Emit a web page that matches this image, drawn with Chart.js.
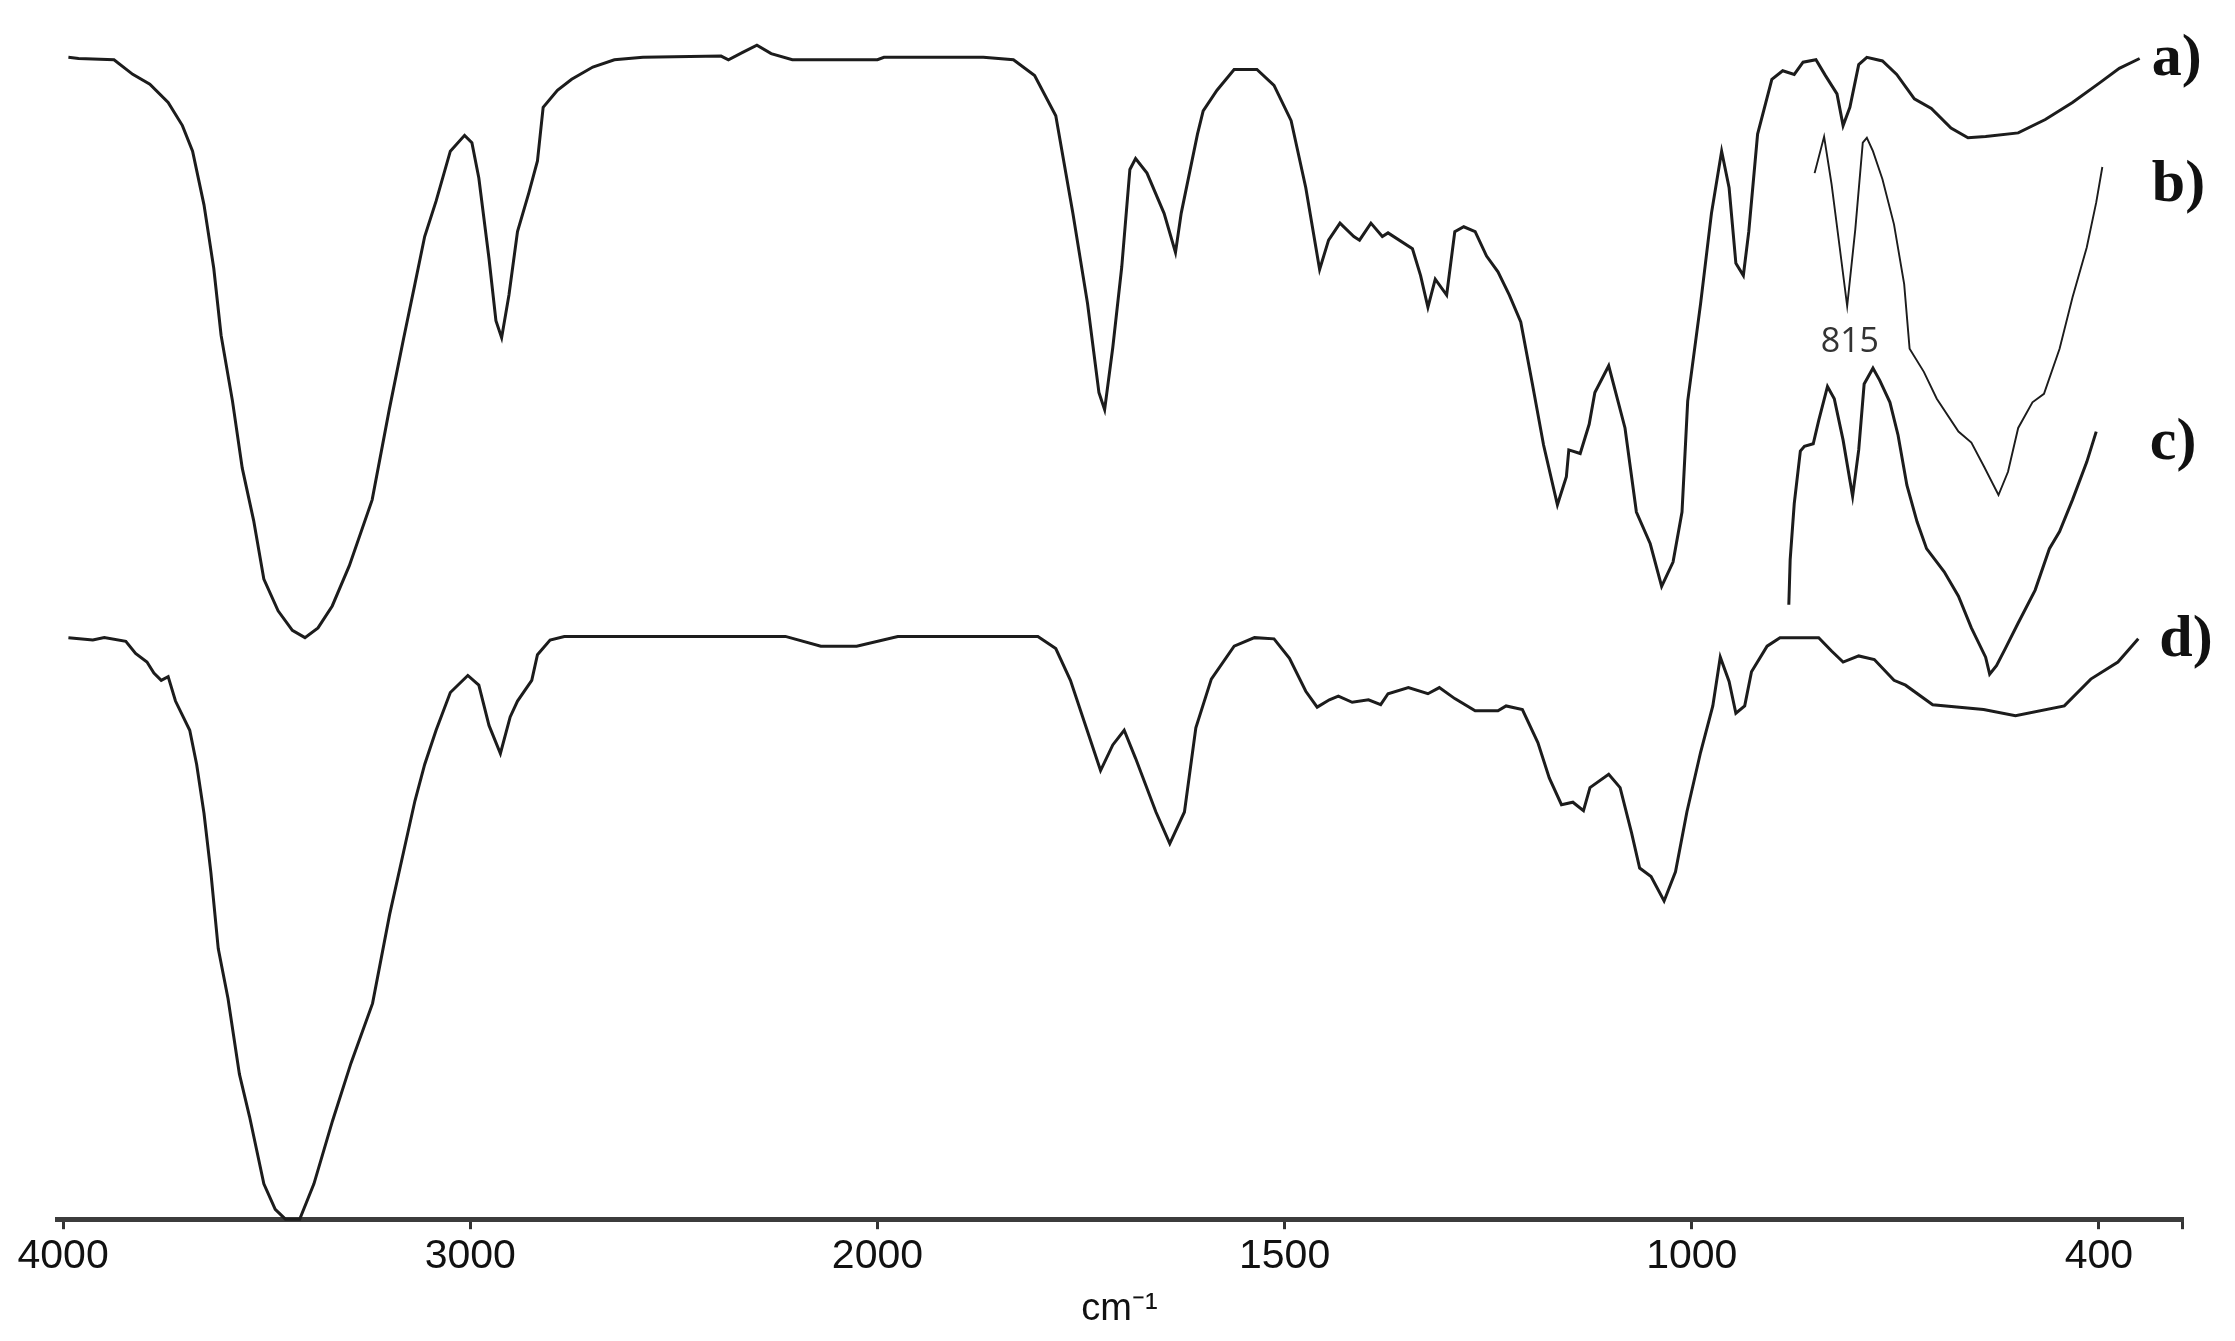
<!DOCTYPE html>
<html>
<head>
<meta charset="utf-8">
<script src="https://cdn.jsdelivr.net/npm/chart.js@4.4.1/dist/chart.umd.min.js"></script>
<style>
  html, body { margin: 0; padding: 0; background: #fff; }
  #wrap { width: 2235px; height: 1341px; position: relative; }
</style>
</head>
<body>
<div id="wrap"><canvas id="ftir"></canvas></div>
<script>
// x axis is broken: 4000-2000, 2000-1000 and 1000-400 each get their own stretch
const axisBreakWn = [4000, 2000, 1000, 400];
const axisBreakPos = [0, 2000, 4000, 5000];
const tickWn = [4000, 3000, 2000, 1500, 1000, 400];
const tickText = ['4000', '3000', '2000', '1500', '1000', '400'];

// spectrum a)
const aWn = [3987, 3962, 3875, 3829, 3787, 3742, 3707, 3682, 3654, 3630, 3612, 3584, 3560, 3532, 3507, 3472, 3437, 3406,
  3374, 3339, 3297, 3241, 3199, 3164, 3136, 3112, 3084, 3049, 3014, 2996, 2979, 2954, 2937, 2923, 2905, 2884, 2856,
  2835, 2821, 2786, 2751, 2699, 2646, 2576, 2384, 2366, 2331, 2296, 2261, 2209, 2000, 1992, 1870, 1833, 1807, 1781,
  1760, 1742, 1728, 1721, 1711, 1700, 1690, 1683, 1669, 1648, 1634, 1627, 1607, 1600, 1583, 1562, 1534, 1513, 1492,
  1474, 1457, 1446, 1432, 1415, 1408, 1394, 1380, 1373, 1343, 1333, 1324, 1315, 1301, 1291, 1280, 1266, 1252, 1238,
  1224, 1210, 1196, 1182, 1165, 1154, 1151, 1137, 1126, 1119, 1102, 1082, 1068, 1051, 1037, 1023, 1012, 1005, 987,
  971, 956, 945, 935, 924, 916, 903, 882, 866, 849, 836, 817, 803, 786, 777, 767, 754, 742, 719, 698, 672, 647, 618,
  593, 567, 519, 479, 439, 399, 370, 340];
const aT = [95.3, 95.2, 95.1, 93.9, 93.1, 91.6, 89.7, 87.6, 83.2, 78.0, 72.5, 67.1, 61.6, 57.3, 52.5, 49.9, 48.3, 47.7,
  48.5, 50.3, 53.6, 59.0, 66.4, 72.2, 76.7, 80.6, 83.5, 87.6, 88.9, 88.3, 85.4, 78.8, 73.7, 72.3, 75.8, 81.0, 84.2,
  86.8, 91.2, 92.6, 93.5, 94.5, 95.1, 95.3, 95.4, 95.1, 95.7, 96.3, 95.6, 95.1, 95.1, 95.3, 95.3, 95.1, 93.8, 90.5,
  82.5, 75.1, 67.8, 66.4, 71.5, 78.1, 86.1, 87.0, 85.8, 82.5, 79.3, 82.5, 89.0, 90.9, 92.6, 94.3, 94.3, 93.0, 90.1,
  84.6, 77.9, 80.3, 81.7, 80.6, 80.3, 81.7, 80.6, 80.9, 79.6, 77.4, 74.8, 77.1, 75.8, 81.0, 81.4, 81.0, 79.0, 77.7,
  75.8, 73.6, 68.6, 63.5, 58.6, 60.9, 63.1, 62.8, 65.2, 67.8, 70.0, 64.9, 58.0, 55.4, 51.9, 53.9, 58.0, 67.1, 75.1,
  82.5, 87.6, 84.6, 78.4, 77.4, 81.0, 89.0, 93.5, 94.2, 93.9, 94.9, 95.1, 93.8, 92.3, 89.7, 91.2, 94.7, 95.3, 95.0,
  93.9, 91.9, 91.1, 89.5, 88.7, 88.8, 89.1, 90.2, 91.6, 93.2, 94.4, 95.2];

// spectrum b) (only the low-wavenumber inset)
const bWn = [819, 805, 794, 782, 771, 759, 748, 742, 733, 719, 702, 687, 679, 658, 639, 607, 588, 569, 548, 534, 519,
  498, 481, 458, 439, 418, 404, 395];
const bT = [85.8, 88.8, 84.9, 79.7, 74.9, 81.2, 88.3, 88.7, 87.6, 85.3, 81.6, 76.7, 71.4, 69.5, 67.3, 64.6, 63.7,
  61.7, 59.4, 61.3, 64.9, 67.0, 67.7, 71.4, 75.6, 79.7, 83.4, 86.3];

// spectrum c) (only the low-wavenumber inset)
const cWn = [857, 855, 849, 840, 834, 821, 813, 800, 790, 777, 763, 754, 746, 733, 723, 708, 696, 683, 668, 654, 628,
  607, 588, 567, 561, 551, 538, 519, 494, 473, 458, 439, 418, 404];
const cT = [50.4, 54.1, 58.7, 63.0, 63.4, 63.6, 65.5, 68.3, 67.3, 63.9, 59.3, 63.1, 68.5, 69.8, 68.8, 67.0, 64.3,
  60.2, 57.2, 55.0, 53.1, 51.1, 48.5, 46.1, 44.7, 45.4, 46.8, 48.9, 51.6, 55.0, 56.4, 59.0, 62.1, 64.6];

// spectrum d)
const dWn = [3987, 3927, 3899, 3846, 3822, 3794, 3777, 3759, 3742, 3724, 3689, 3672, 3654, 3637, 3619, 3595, 3567,
  3542, 3507, 3479, 3454, 3419, 3384, 3338, 3293, 3240, 3198, 3164, 3136, 3112, 3084, 3049, 3006, 2979, 2954, 2926,
  2902, 2884, 2849, 2835, 2804, 2769, 2226, 2139, 2051, 1975, 1803, 1781, 1763, 1746, 1726, 1711, 1697, 1683, 1658,
  1641, 1623, 1609, 1590, 1562, 1537, 1513, 1494, 1474, 1460, 1445, 1434, 1417, 1397, 1382, 1373, 1348, 1324, 1310,
  1291, 1266, 1238, 1228, 1208, 1189, 1175, 1160, 1146, 1133, 1125, 1102, 1088, 1074, 1064, 1050, 1034, 1020, 1006,
  987, 969, 958, 945, 935, 922, 912, 889, 870, 813, 794, 777, 754, 731, 702, 685, 645, 570, 523, 451, 412, 372, 342];
const dT = [47.7, 47.5, 47.7, 47.4, 46.4, 45.7, 44.8, 44.2, 44.5, 42.5, 40.1, 37.3, 33.3, 28.4, 22.2, 18.1, 11.9,
  8.4, 2.9, 0.8, 0.0, 0.0, 2.9, 8.1, 12.8, 17.7, 25.0, 30.1, 34.3, 37.3, 40.1, 43.2, 44.6, 43.8, 40.5, 38.2, 41.2,
  42.5, 44.2, 46.3, 47.5, 47.8, 47.8, 47.0, 47.0, 47.8, 47.8, 46.8, 44.2, 40.8, 36.8, 38.9, 40.1, 37.8, 33.4, 30.8,
  33.4, 40.3, 44.3, 47.0, 47.7, 47.6, 46.0, 43.3, 42.0, 42.6, 42.9, 42.4, 42.6, 42.2, 43.1, 43.6, 43.1, 43.6, 42.7,
  41.7, 41.7, 42.1, 41.8, 39.1, 36.2, 34.0, 34.2, 33.5, 35.4, 36.5, 35.4, 31.7, 28.8, 28.1, 26.1, 28.5, 33.4, 38.3,
  42.1, 46.1, 44.1, 41.5, 42.1, 44.9, 47.0, 47.7, 47.7, 46.6, 45.7, 46.2, 45.9, 44.2, 43.8, 42.2, 41.8, 41.3, 42.1,
  44.3, 45.7, 47.6];

// curve tags and the peak note
const tagText = ['a)', 'b)', 'c)', 'd)'];
const tagWn = [322, 322, 325, 311];
const tagT = [95.1, 84.8, 63.6, 47.5];
const noteText = '815';
const noteWn = 767;
const noteT = 71.9;

// wavenumber -> position along the drawn axis
function toPos(wn) {
  let i = 0;
  while (i < axisBreakWn.length - 2 && wn < axisBreakWn[i + 1]) i++;
  const w0 = axisBreakWn[i], w1 = axisBreakWn[i + 1];
  const p0 = axisBreakPos[i], p1 = axisBreakPos[i + 1];
  return p0 + (w0 - wn) * (p1 - p0) / (w0 - w1);
}

function series(wn, t) {
  return wn.map((w, i) => ({ x: toPos(w), y: t[i] }));
}

const tickPos = tickWn.map(toPos);
const axisMin = -15;
const axisMax = 5204;

const tagPlugin = {
  id: 'tags',
  afterDatasetsDraw(chart) {
    const { ctx, scales: { x, y } } = chart;
    ctx.save();
    ctx.fillStyle = '#111';
    ctx.textAlign = 'left';
    ctx.textBaseline = 'middle';
    ctx.font = 'bold 60px "Liberation Serif", "Times New Roman", serif';
    tagText.forEach((t, i) => {
      ctx.fillText(t, x.getPixelForValue(toPos(tagWn[i])), y.getPixelForValue(tagT[i]));
    });
    ctx.font = '34px "Open Sans", sans-serif';
    ctx.fillStyle = '#333';
    ctx.textAlign = 'center';
    ctx.fillText(noteText, x.getPixelForValue(toPos(noteWn)), y.getPixelForValue(noteT));
    ctx.restore();
  }
};

const lineStyle = { borderColor: '#1c1c1c', pointRadius: 0, tension: 0, fill: false, clip: false };

new Chart(document.getElementById('ftir'), {
  type: 'line',
  data: {
    datasets: [
      { ...lineStyle, label: 'a)', data: series(aWn, aT), borderWidth: 3 },
      { ...lineStyle, label: 'b)', data: series(bWn, bT), borderWidth: 1.9 },
      { ...lineStyle, label: 'c)', data: series(cWn, cT), borderWidth: 3 },
      { ...lineStyle, label: 'd)', data: series(dWn, dT), borderWidth: 3 }
    ]
  },
  options: {
    responsive: true,
    maintainAspectRatio: false,
    animation: false,
    layout: { padding: { left: 57, right: 53, top: 0, bottom: 9 } },
    plugins: {
      legend: { display: false },
      tooltip: { enabled: false }
    },
    scales: {
      x: {
        type: 'linear',
        min: axisMin,
        max: axisMax,
        afterBuildTicks: (scale) => {
          scale.ticks = tickPos.map(v => ({ value: v })).concat([{ value: axisMax }]);
        },
        ticks: {
          autoSkip: false,
          maxRotation: 0,
          padding: 3,
          color: '#111',
          font: { family: '"Liberation Sans", Arial, sans-serif', size: 41 },
          callback: (value) => {
            const i = tickPos.findIndex(p => Math.abs(p - value) < 0.5);
            return i >= 0 ? tickText[i] : '';
          }
        },
        grid: {
          drawOnChartArea: false,
          drawTicks: true,
          tickLength: 10,
          color: '#333',
          lineWidth: 3
        },
        border: { display: true, color: '#3c3c3c', width: 5 },
        title: {
          display: true,
          text: 'cm⁻¹',
          color: '#111',
          padding: { top: 2, bottom: 0 },
          font: { family: '"Liberation Sans Narrow", "Liberation Sans", sans-serif', size: 38 }
        }
      },
      y: {
        display: false,
        min: 0,
        max: 100
      }
    }
  },
  plugins: [tagPlugin]
});
</script>
</body>
</html>
